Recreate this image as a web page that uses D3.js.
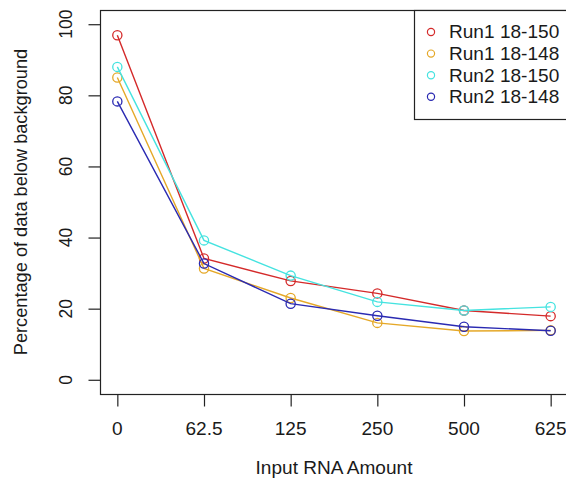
<!DOCTYPE html>
<html>
<head>
<meta charset="utf-8">
<script src="https://cdn.jsdelivr.net/npm/d3@7"></script>
<style>
	body { margin: 0; background: #fff; }
	text { font-family: "Liberation Sans", Arial, sans-serif; fill: #1a1a1a; }
</style>
</head>
<body>
<svg id="chart" width="566" height="481"></svg>
<script>

var amounts = ["0", "62.5", "125", "250", "500", "625"];
var yTicks = [0, 20, 40, 60, 80, 100];

var seriesNames = ["Run1 18-150", "Run1 18-148", "Run2 18-150", "Run2 18-148"];
var seriesColors = ["#d42a2a", "#e5a828", "#45e3e0", "#2a2ab2"];

var run1_150 = [96.9, 34.1, 27.8, 24.3, 19.5, 17.9];
var run1_148 = [85.0, 31.3, 23.0, 16.0, 13.7, 13.9];
var run2_150 = [88.0, 39.2, 29.3, 21.9, 19.5, 20.5];
var run2_148 = [78.3, 32.7, 21.4, 18.0, 14.9, 13.8];

var allSeries = [run1_150, run1_148, run2_150, run2_148];

var svg = d3.select("#chart");

// note: can't call it "top", window.top is taken
var plotL = 100, plotR = 568, plotT = 10, plotB = 394;
var fontSize = 17.5;
var stretch = 1.09; // the reference text is a bit wide

var x = d3.scalePoint().domain(amounts).range([plotL, plotR]).padding(0.2);
var y = d3.scaleLinear().domain([-4, 104]).range([plotB, plotT]);

// plot box
svg.append("rect")
	.attr("x", plotL + 0.5).attr("y", plotT + 0.5)
	.attr("width", plotR - plotL).attr("height", plotB - plotT)
	.style("fill", "none").style("stroke", "#222").style("stroke-width", 1.2);

// y axis ticks
var yAxis = d3.axisLeft(y).tickValues(yTicks).tickSize(12).tickFormat("");
var ga = svg.append("g").attr("transform", "translate(" + (plotL + 0.5) + ",0)").call(yAxis);
ga.select(".domain").remove();
ga.selectAll("line").style("stroke", "#222").style("stroke-width", 1.2);

svg.selectAll(".ylab")
	.data(yTicks)
	.enter()
	.append("text")
	.attr("transform", function(d) { return "translate(71.5," + y(d) + ") rotate(-90)"; })
	.attr("text-anchor", "middle")
	.style("font-size", fontSize + "px")
	.text(function(d) { return d; });

// x axis ticks
var xAxis = d3.axisBottom(x).tickSize(12).tickFormat("");
var gx = svg.append("g").attr("transform", "translate(0," + (plotB + 0.5) + ")").call(xAxis);
gx.select(".domain").remove();
gx.selectAll("line").style("stroke", "#222").style("stroke-width", 1.2);

svg.selectAll(".xlab")
	.data(amounts)
	.enter()
	.append("text")
	.attr("transform", function(d) { return "translate(" + x(d) + ",434.5) scale(" + stretch + ",1)"; })
	.attr("text-anchor", "middle")
	.style("font-size", fontSize + "px")
	.text(function(d) { return d; });

// axis titles
svg.append("text")
	.attr("transform", "translate(" + ((plotL + plotR) / 2) + ",474) scale(" + stretch + ",1)")
	.attr("text-anchor", "middle")
	.style("font-size", fontSize + "px")
	.text("Input RNA Amount");

svg.append("text")
	.attr("transform", "translate(26.5," + ((plotT + plotB) / 2) + ") rotate(-90) scale(1.04,1)")
	.attr("text-anchor", "middle")
	.style("font-size", fontSize + "px")
	.text("Percentage of data below background");

// lines + points
var line = d3.line()
	.x(function(d, i) { return x(amounts[i]); })
	.y(function(d) { return y(d); });

allSeries.forEach(function(vals, s) {
	svg.append("path")
		.attr("d", line(vals))
		.style("fill", "none")
		.style("stroke", seriesColors[s])
		.style("stroke-width", 1.4);

	svg.selectAll(".pt" + s)
		.data(vals)
		.enter()
		.append("circle")
		.attr("cx", function(d, i) { return x(amounts[i]); })
		.attr("cy", function(d) { return y(d); })
		.attr("r", 4.6)
		.style("fill", "none")
		.style("stroke", seriesColors[s])
		.style("stroke-width", 1.3);
});

// legend
var legTop = 10, legLeft = 414, rowH = 21.6;
svg.append("rect")
	.attr("x", legLeft + 0.5).attr("y", legTop + 0.5)
	.attr("width", plotR - legLeft).attr("height", 109)
	.style("fill", "#fff").style("stroke", "#222").style("stroke-width", 1.2);

var leg = svg.selectAll(".leg")
	.data(seriesNames)
	.enter()
	.append("g")
	.attr("transform", function(d, i) { return "translate(0," + (legTop + 22 + i * rowH) + ")"; });

leg.append("circle")
	.attr("cx", 431).attr("cy", 0)
	.attr("r", 3.6)
	.style("fill", "none")
	.style("stroke", function(d, i) { return seriesColors[i]; })
	.style("stroke-width", 1.2);

leg.append("text")
	.attr("transform", "translate(449,6.3) scale(" + stretch + ",1)")
	.style("font-size", fontSize + "px")
	.text(function(d) { return d; });

</script>
</body>
</html>
